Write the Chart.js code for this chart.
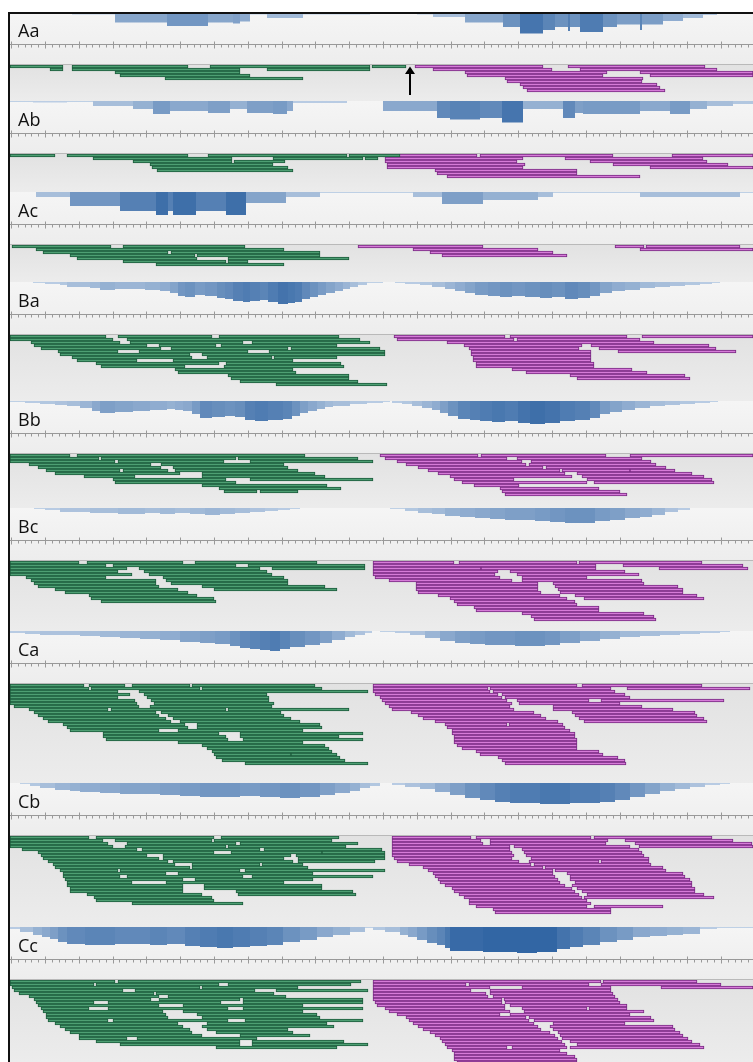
<!DOCTYPE html>
<html>
<head>
<meta charset="utf-8">
<script src="https://cdn.jsdelivr.net/npm/chart.js@4.4.1/dist/chart.umd.min.js"></script>
<style>
body { margin: 0; background: #fff; width: 753px; height: 1062px; overflow: hidden; position: relative; font-family: "Open Sans", sans-serif; }
#frame { position: absolute; left: 8px; top: 12px; width: 745px; height: 1050px; border-left: 2px solid #111; border-top: 2px solid #111; box-sizing: border-box; z-index: 10; }
#bg { position: absolute; left: 10px; top: 14px; width: 743px; height: 1048px; background: #e6e6e6; }
.head { position: absolute; left: 10px; width: 743px; height: 52px; background: linear-gradient(#f5f5f5, #ededed); }
.reads { position: absolute; left: 10px; width: 743px; border-top: 1px solid #b9b9b9; background: linear-gradient(#e2e2e2, #ececec); }
.lbl { position: absolute; left: 8px; font-size: 18px; line-height: 18px; color: #111; z-index: 5; }
canvas { position: absolute; left: 0; top: 0; }
</style>
</head>
<body>
<div id="bg"></div>
<div id="frame"></div>
<script>
// panels (sample names)
const panelNames = ["Aa", "Ab", "Ac", "Ba", "Bb", "Bc", "Ca", "Cb", "Cc"];

// coverage profiles: [position, depth] steps
const covAa = [[10,0],[50,2],[63,0],[72,2.5],[115,10.5],[167,14],[208,10.5],[233,11.5],[240,9.5],[250,2.5],[267,6],[303,2.5],[370,1],[417,2.5],[433,5],[465,10.5],[503,15],[520,21.5],[543,18],[555,15],[568,19],[570,15],[580,20],[603,15],[617,12.5],[640,18],[642,12.5],[663,9],[683,6],[703,3],[717,1],[753,1]];
const covAb = [[10,1],[33,1.5],[67,1],[93,5],[133,8],[153,13],[170,10],[208,12],[230,8],[247,12],[273,13],[287,10],[293,2],[347,0],[383,10],[437,17],[450,18.5],[480,17],[502,21.5],[523,8],[563,17],[575,12],[583,13],[640,10],[670,13],[690,8],[707,5],[733,3],[753,3]];
const covAc = [[10,0],[36,5],[70,14],[120,19],[156,23],[168,19],[173,23],[196,19],[226,23],[246,11],[286,5],[320,1],[358,1],[413,5],[442,12],[483,8],[538,5],[553,1],[615,1],[640,5],[740,1],[753,1]];
const covBa = [[10,0],[33,1],[45,2],[60,3],[67,5],[80,5],[90,6],[100,8],[115,7],[133,7],[145,8],[160,9],[170,11],[178,14],[185,15],[195,13],[205,14],[217,16],[225,17],[233,19],[243,20],[250,19],[260,18],[268,20],[278,22],[288,21],[295,20],[302,17],[310,15],[318,13],[326,11],[335,9],[343,7],[350,5],[358,3],[367,1],[383,0],
    [395,1],[405,2],[420,3],[432,5],[445,7],[455,9],[465,11],[475,13],[488,14],[500,15],[512,14],[525,15],[540,16],[552,15],[565,17],[578,16],[590,14],[600,11],[612,9],[625,8],[640,6],[655,5],[670,4],[685,3],[700,2],[712,1],[720,0],[753,0]];
const covBb = [[10,1],[25,2],[40,3],[55,4],[67,5],[80,7],[92,10],[100,12],[115,11],[133,10],[150,9],[167,8],[175,9],[183,10],[192,13],[200,17],[212,16],[225,15],[235,16],[245,19],[255,20],[268,19],[283,18],[292,15],[300,12],[308,10],[317,8],[325,6],[333,5],[350,3],[367,2],[383,1],[390,0],
    [392,2],[402,3],[412,5],[422,7],[432,9],[440,12],[448,15],[458,18],[470,19],[480,20],[492,21],[505,20],[518,22],[530,23],[545,22],[560,20],[575,19],[590,17],[600,13],[610,11],[622,9],[635,7],[650,5],[665,4],[680,3],[695,2],[710,1],[718,0],[753,0]];
const covBc = [[10,0],[34,1],[45,2],[60,4],[75,4],[90,5],[105,5],[118,6],[130,6],[145,5],[160,6],[175,5],[190,6],[205,7],[220,6],[235,5],[250,4],[265,3],[278,2],[290,1],[300,0],
    [390,1],[405,3],[418,5],[432,6],[445,8],[460,9],[475,10],[490,11],[505,12],[520,12],[535,13],[550,14],[565,15],[580,15],[595,13],[610,12],[625,10],[640,9],[652,7],[665,4],[678,2],[690,0],[753,0]];
const covCa = [[10,2],[25,3],[40,4],[60,4],[80,5],[100,6],[120,7],[140,8],[160,9],[180,11],[200,12],[215,13],[230,15],[240,17],[250,18],[260,19],[270,20],[280,18],[290,16],[305,14],[320,12],[332,9],[345,6],[355,4],[365,2],[372,0],
    [380,1],[395,2],[410,4],[425,7],[440,10],[455,12],[470,13],[485,14],[500,14],[515,15],[530,15],[545,14],[560,12],[580,10],[600,8],[620,6],[640,5],[660,4],[680,3],[700,2],[720,1],[730,0],[753,0]];
const covCb = [[10,0],[20,1],[30,3],[40,5],[55,7],[70,8],[80,9],[100,10],[120,11],[140,11],[160,12],[180,13],[200,14],[220,14],[240,13],[260,14],[280,15],[300,14],[320,12],[335,10],[350,8],[360,5],[370,3],[380,0],
    [392,2],[405,4],[420,6],[435,9],[450,12],[465,15],[480,17],[495,19],[510,20],[525,20],[540,21],[555,21],[570,20],[585,20],[600,19],[615,17],[630,14],[645,11],[660,8],[675,6],[690,4],[705,2],[720,1],[730,0],[753,0]];
const covCc = [[10,2],[20,5],[33,8],[42,10],[50,12],[58,15],[67,17],[85,18],[100,18],[115,17],[133,17],[150,18],[167,17],[185,19],[200,20],[217,21],[233,20],[250,19],[267,18],[283,15],[300,13],[317,10],[333,8],[350,5],[365,1],
    [373,3],[385,5],[400,8],[408,10],[417,13],[427,16],[437,18],[445,21],[450,24],[465,24],[483,25],[500,25],[517,26],[537,25],[557,22],[570,20],[583,18],[600,15],[617,13],[633,10],[650,9],[667,8],[683,7],[700,2],[717,1],[753,0]];

// reads: one list per stacking row, each with [start, end] pairs
const greenAa = [[[10,63],[72,188],[210,370],[372,406]],[[50,63],[72,240],[267,370]],[[115,240]],[[120,250]],[[165,303]]];
const purpleAa = [[[415,543],[568,705]],[[433,552],[580,717]],[[465,607],[640,753]],[[467,603],[650,753]],[[505,643]],[[507,642]],[[520,657]],[[523,660]],[[527,665]]];
const greenAb = [[[10,55],[67,188],[208,347],[349,400]],[[93,232],[273,363],[365,378]],[[133,232],[234,285]],[[150,273]],[[152,288]],[[157,293]]];
const purpleAb = [[[383,477],[480,613],[672,753]],[[385,523],[565,703]],[[385,517],[590,707]],[[387,525],[613,728]],[[387,523],[650,753]],[[435,577]],[[437,577]],[[447,640]]];
const greenAc = [[[12,111],[123,245]],[[36,284]],[[43,168],[171,320]],[[70,195],[197,320]],[[77,197],[228,349]],[[123,226],[228,248]],[[156,284]]];
const purpleAc = [[[358,483],[615,644],[646,740]],[[413,538],[640,753]],[[430,553]],[[442,567]]];
const greenBa = [[[10,106],[118,212],[219,339]],[[10,113],[127,360]],[[31,120],[130,243],[252,370]],[[34,147],[159,216],[221,337]],[[41,161],[171,288],[291,380]],[[58,118],[139,248],[269,385]],[[60,190],[202,385]],[[72,192],[207,272],[274,337]],[[77,137],[173,293]],[[96,219],[226,341]],[[101,185],[224,344]],[[175,293]],[[178,296]],[[228,349]],[[231,349]],[[240,358]],[[276,387]]];
const purpleBa = [[[394,505],[510,627],[642,753]],[[397,514],[517,640]],[[447,654]],[[464,582],[591,709]],[[469,579],[599,716]],[[471,591],[618,736]],[[471,591]],[[473,591]],[[473,591]],[[476,594]],[[476,594]],[[512,632]],[[526,647]],[[570,685]],[[577,690]]];
const greenBb = [[[10,70],[77,305]],[[10,99],[101,236],[238,358]],[[10,115],[118,224],[250,373]],[[29,151],[161,284]],[[38,161],[173,288]],[[46,120],[123,168],[175,298]],[[55,180],[202,315]],[[84,135],[202,325]],[[113,226],[250,373]],[[115,236]],[[202,327]],[[219,341]],[[224,257],[260,298]]];
const purpleBb = [[[380,478],[481,606],[630,753]],[[385,507],[517,642]],[[397,522],[531,651]],[[406,526],[529,656]],[[418,543],[546,666]],[[428,560],[562,630],[630,675]],[[438,565],[577,692]],[[450,572],[582,704]],[[454,514],[587,712]],[[462,587],[594,714]],[[474,519]],[[500,599]],[[502,620]],[[505,627]]];
const greenBc = [[[10,79],[87,183],[195,317]],[[10,106],[113,236],[248,365]],[[10,127],[139,260],[272,365]],[[10,118],[144,267]],[[10,132],[149,272]],[[26,106],[163,284]],[[31,156],[166,288]],[[34,156],[171,288]],[[38,159],[202,325]],[[55,178],[214,337]],[[65,188]],[[89,197]],[[91,214]],[[101,216]]];
const purpleBc = [[[373,454],[459,577],[579,702]],[[373,596],[623,743]],[[373,481],[481,596],[659,748]],[[373,498],[510,625]],[[373,495],[517,639]],[[375,500],[522,587]],[[389,512],[522,642]],[[416,538],[553,644]],[[416,538],[555,678]],[[416,538],[558,683]],[[418,541],[560,683]],[[438,560],[575,697]],[[450,567],[584,704]],[[454,575]],[[457,577]],[[474,599]],[[476,599]],[[522,644]],[[531,654]],[[534,656]]];
const greenCa = [[[10,84],[89,125],[132,190],[192,315]],[[10,89],[91,200],[202,322]],[[10,118],[139,368]],[[10,130],[144,267]],[[10,118],[147,269]],[[10,135],[151,269]],[[10,137],[154,274]],[[14,139],[150,272]],[[29,108],[111,226],[228,349]],[[34,156],[161,281]],[[38,159],[168,284]],[[43,166],[173,291]],[[48,171],[180,300]],[[63,185],[197,320]],[[67,188],[197,322]],[[70,159],[178,303]],[[103,219],[240,363]],[[103,226],[240,339]],[[106,228],[243,363]],[[178,303]],[[202,325]],[[207,329]],[[212,332]],[[214,291],[291,337]],[[216,340]],[[222,345]],[[245,368]]];
const purpleCa = [[[373,577],[582,702]],[[373,488],[490,611],[627,750]],[[373,490],[493,615]],[[375,498],[502,625]],[[380,502],[505,630]],[[382,507],[517,589],[601,724]],[[385,512],[519,620]],[[389,510],[553,642]],[[392,514],[553,673]],[[411,534],[572,695]],[[418,541],[575,697]],[[423,546],[579,704]],[[435,558],[584,707]],[[445,507],[509,563]],[[447,565]],[[452,570]],[[452,575]],[[454,575]],[[454,577]],[[454,577]],[[457,577]],[[462,577]],[[476,599]],[[480,603]],[[498,618]],[[502,625]],[[505,626]]];
const greenCb = [[[10,89],[96,214],[221,339]],[[10,103],[115,212],[214,332]],[[10,108],[127,236],[240,358]],[[10,113],[125,226],[228,346]],[[22,137],[142,260],[264,382]],[[38,214],[231,322],[322,385]],[[41,147],[163,291],[296,385]],[[43,159],[163,284],[298,385]],[[48,168],[173,293],[298,375]],[[53,175],[192,260],[262,303]],[[55,190],[192,308]],[[60,118],[120,240],[245,385]],[[63,166],[178,313]],[[63,120],[127,243],[252,373]],[[65,183],[195,313]],[[67,132],[166,284]],[[67,183],[204,322]],[[70,183],[204,322]],[[70,183],[236,353]],[[87,202],[238,356]],[[94,212]],[[96,214]],[[132,243]]];
const purpleCb = [[[392,471],[476,591],[594,712]],[[392,481],[490,608],[625,733]],[[392,483],[490,606],[635,752]],[[392,510],[514,630],[639,753]],[[392,510],[522,639]],[[392,512],[524,642]],[[392,514],[526,644]],[[394,512],[531,649]],[[397,519],[529,599],[601,649]],[[409,531],[534,651]],[[423,543],[545,663]],[[428,553],[555,666]],[[433,553],[567,683]],[[435,555],[570,685]],[[438,558],[570,690]],[[440,560],[575,692]],[[445,565],[572,692]],[[452,572],[577,695]],[[454,575],[582,695]],[[459,579],[587,704]],[[464,582],[584,714]],[[469,587]],[[469,591]],[[476,587],[594,663]],[[493,611]],[[495,611]]];
const greenCc = [[[10,115],[118,361]],[[10,94],[96,219],[228,351]],[[12,200],[202,298]],[[14,123],[135,255],[276,368]],[[19,154],[156,274]],[[29,159],[168,286]],[[34,151],[159,240],[243,363]],[[36,94],[108,221],[243,363]],[[38,159],[183,303]],[[41,89],[108,228],[243,363]],[[43,163],[183,303]],[[46,166],[197,317]],[[46,168],[202,320]],[[48,108],[113,228],[245,363]],[[55,178],[207,327]],[[60,183],[202,334]],[[65,190],[207,288]],[[70,192],[216,293]],[[79,202],[240,310]],[[79,127],[137,257]],[[96,240],[252,344]],[[120,240],[252,368]],[[216,337]]];
const purpleCc = [[[373,601],[603,697]],[[373,466],[469,589],[601,721]],[[373,490],[522,611],[661,753]],[[373,471],[490,611]],[[373,486],[490,613]],[[373,488],[493,615]],[[373,502],[504,618]],[[375,502],[505,620]],[[377,505],[510,627]],[[385,505],[522,587],[589,627]],[[389,510],[524,644]],[[397,500],[510,630]],[[406,526],[529,651]],[[409,529],[534,654]],[[413,534],[553,625]],[[418,538],[550,673]],[[423,541],[553,675]],[[430,550],[558,680]],[[435,555],[560,683]],[[440,558],[562,688]],[[442,562],[570,692]],[[445,565],[577,700]],[[447,507],[512,567],[570,704]],[[452,560]],[[454,567]],[[454,575]],[[454,577]],[[457,577]],[[457,577]]];

const coverages = [covAa, covAb, covAc, covBa, covBb, covBc, covCa, covCb, covCc];
const greenReads = [greenAa, greenAb, greenAc, greenBa, greenBb, greenBc, greenCa, greenCb, greenCc];
const purpleReads = [purpleAa, purpleAb, purpleAc, purpleBa, purpleBb, purpleBc, purpleCa, purpleCb, purpleCc];

// ruler ticks (genome ruler under the coverage)
const rulerStart = 11.2, rulerStep = 6.76;

// layout
const panelTops = [12, 101, 192, 282, 401, 508, 631, 783, 927];
const xMin = 10, xMax = 753, pageH = 1062, headH = 52;

function shade(d) {
    const t = Math.min(d / 25, 1);
    return `rgb(${Math.round(196 - 146 * t)},${Math.round(212 - 110 * t)},${Math.round(232 - 68 * t)})`;
}

const rulerPlugin = {
    id: "ruler",
    afterDraw(chart) {
        const ctx = chart.ctx, xs = chart.scales.x;
        const y = chart.chartArea.bottom + 2.5;
        ctx.save();
        ctx.strokeStyle = "#999";
        ctx.lineWidth = 1;
        ctx.beginPath();
        ctx.moveTo(0, y);
        ctx.lineTo(chart.width, y);
        for (let k = 0; ; k++) {
            const v = rulerStart + k * rulerStep;
            if (v > xMax) break;
            const px = Math.round(xs.getPixelForValue(v)) + 0.5;
            const major = k % 5 === 0;
            ctx.moveTo(px, major ? y - 3 : y);
            ctx.lineTo(px, major ? y + 4 : y + 3);
        }
        ctx.stroke();
        ctx.restore();
    }
};

const arrowPlugin = {
    id: "arrow",
    afterDraw(chart, args, opts) {
        if (!opts.at) return;
        const ctx = chart.ctx;
        const px = chart.scales.x.getPixelForValue(opts.at);
        ctx.save();
        ctx.strokeStyle = "#000";
        ctx.fillStyle = "#000";
        ctx.lineWidth = 2;
        ctx.beginPath();
        ctx.moveTo(px, 7);
        ctx.lineTo(px, 30);
        ctx.stroke();
        ctx.beginPath();
        ctx.moveTo(px, 1.5);
        ctx.lineTo(px - 5, 9);
        ctx.lineTo(px + 5, 9);
        ctx.closePath();
        ctx.fill();
        ctx.restore();
    }
};

function makeCanvas(parent, w, h) {
    const c = document.createElement("canvas");
    c.width = w; c.height = h;
    c.style.width = w + "px"; c.style.height = h + "px";
    parent.appendChild(c);
    return c;
}

function readsData(rows) {
    const out = [];
    rows.forEach((segs, r) => segs.forEach((s) => out.push({ x: [s[0], s[1]], y: r })));
    return out;
}

const baseOptions = {
    responsive: false,
    animation: false,
    events: [],
    plugins: { legend: { display: false }, tooltip: { enabled: false } },
};

panelNames.forEach((name, i) => {
    const top = panelTops[i];
    const next = i + 1 < panelTops.length ? panelTops[i + 1] : pageH;

    const head = document.createElement("div");
    head.className = "head";
    head.style.top = top + "px";
    document.body.appendChild(head);

    const lbl = document.createElement("div");
    lbl.className = "lbl";
    lbl.style.top = "9px";
    lbl.textContent = name;
    head.appendChild(lbl);

    const covCanvas = makeCanvas(head, 743, headH);
    const covSets = [{
        data: coverages[i].map((p) => ({ x: p[0], y: p[1] })),
        stepped: "before",
        fill: "origin",
        borderWidth: 0,
        pointRadius: 0,
        backgroundColor: shade(0),
        segment: { backgroundColor: (c) => shade(c.p0.parsed.y) },
    }];
    if (name === "Cc") {
        covSets.push({
            data: [{ x: xMin, y: 0.5 }, { x: xMax, y: 0.5 }],
            borderColor: "#8aa4c4",
            borderWidth: 1,
            borderDash: [6, 4],
            pointRadius: 0,
            fill: false,
        });
    }
    new Chart(covCanvas, {
        type: "line",
        data: { datasets: covSets },
        options: {
            ...baseOptions,
            layout: { padding: { bottom: 22 } },
            scales: {
                x: { type: "linear", min: xMin, max: xMax, display: false, offset: false },
                y: { type: "linear", min: 0, max: 30, reverse: true, display: false, offset: false },
            },
        },
        plugins: [rulerPlugin],
    });

    const readsH = next - (top + headH) - 1;
    const rd = document.createElement("div");
    rd.className = "reads";
    rd.style.top = top + headH + "px";
    rd.style.height = readsH + "px";
    document.body.appendChild(rd);
    const rc = makeCanvas(rd, 743, readsH);
    const nRows = readsH / 3;
    const barStyle = { borderWidth: 1, borderSkipped: false, barThickness: 3, grouped: false };
    new Chart(rc, {
        type: "bar",
        data: {
            datasets: [
                { data: readsData(greenReads[i]), backgroundColor: "#4e9f73", borderColor: "#1d5b3c", ...barStyle },
                { data: readsData(purpleReads[i]), backgroundColor: "#d67bd8", borderColor: "#772982", ...barStyle },
            ],
        },
        options: {
            ...baseOptions,
            indexAxis: "y",
            plugins: { ...baseOptions.plugins, arrow: { at: name === "Aa" ? 410 : null } },
            scales: {
                x: { type: "linear", min: xMin, max: xMax, display: false, offset: false },
                y: { type: "linear", min: -0.5, max: nRows - 0.5, reverse: true, display: false, offset: false, grid: { offset: false } },
            },
        },
        plugins: [arrowPlugin],
    });
});
</script>
</body>
</html>
